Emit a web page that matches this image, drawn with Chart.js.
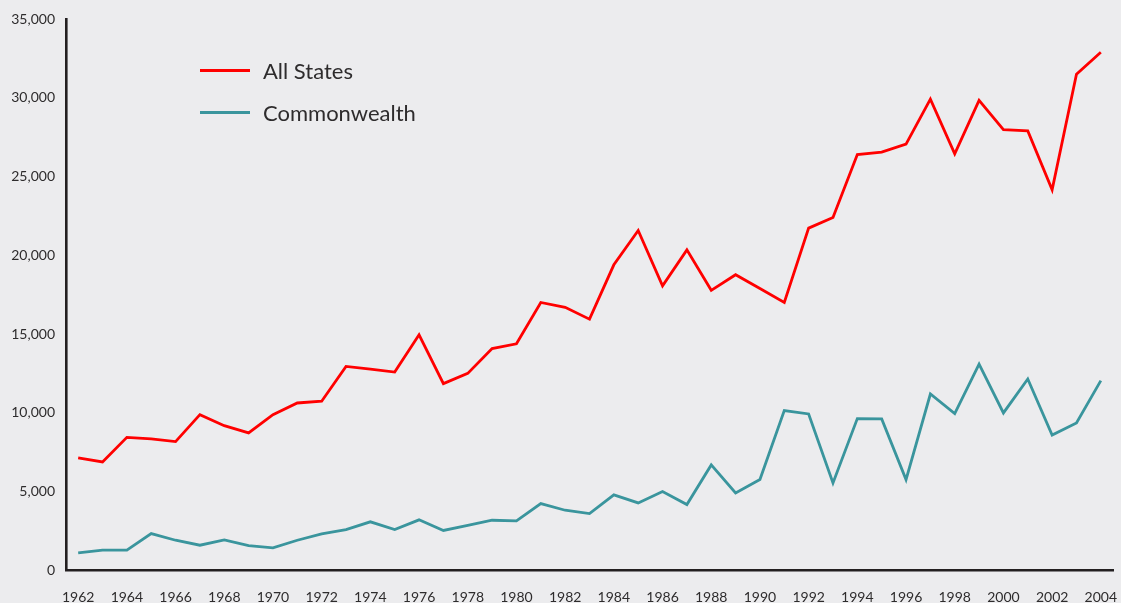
<!DOCTYPE html>
<html>
<head>
<meta charset="utf-8">
<script src="https://cdn.jsdelivr.net/npm/chart.js@4.4.1/dist/chart.umd.min.js"></script>
<style>
  html, body { margin: 0; padding: 0; background: #ececee; }
  #wrap { position: relative; width: 1121px; height: 603px; }
</style>
</head>
<body>
<div id="wrap"><canvas id="c" width="1121" height="603"></canvas></div>
<script>
const years = [1962,1963,1964,1965,1966,1967,1968,1969,1970,1971,1972,1973,1974,1975,1976,1977,1978,1979,1980,1981,1982,1983,1984,1985,1986,1987,1988,1989,1990,1991,1992,1993,1994,1995,1996,1997,1998,1999,2000,2001,2002,2003,2004];
const allStates = [7150,6890,8450,8350,8180,9890,9190,8730,9890,10630,10740,12950,12780,12590,14960,11860,12510,14080,14390,17010,16700,15950,19400,21580,18070,20350,17780,18770,17900,17010,21730,22400,26400,26550,27060,29910,26440,29830,27980,27900,24160,31500,32890];
const commonwealth = [1120,1290,1290,2345,1920,1605,1945,1585,1440,1920,2325,2600,3090,2600,3215,2540,2870,3190,3150,4250,3825,3615,4800,4290,5010,4185,6700,4925,5770,10146,9935,5560,9640,9620,5770,11200,9955,13100,10000,12155,8600,9365,12050];
const yTicks = [0,5000,10000,15000,20000,25000,30000,35000];
const seriesNames = ["All States","Commonwealth"];
const seriesColors = ["#ff0000","#3a959d"];

const FONT = "Lato, 'Open Sans', sans-serif";
const TEXT = "#2e2c2d";

const legendPlugin = {
  id: 'insideLegend',
  afterDatasetsDraw(chart) {
    const ctx = chart.ctx;
    ctx.save();
    chart.data.datasets.forEach((ds, i) => {
      const y = 70.5 + i * 42;
      ctx.strokeStyle = ds.borderColor;
      ctx.lineWidth = 2.8;
      ctx.beginPath();
      ctx.moveTo(200, y);
      ctx.lineTo(250, y);
      ctx.stroke();
      ctx.fillStyle = TEXT;
      ctx.font = "22px " + FONT;
      ctx.textBaseline = 'middle';
      ctx.textAlign = 'left';
      ctx.fillText(ds.label, 263, y + 1);
    });
    ctx.restore();
  }
};

new Chart(document.getElementById('c'), {
  type: 'line',
  data: {
    labels: years,
    datasets: [
      { label: seriesNames[0], data: allStates, borderColor: seriesColors[0], borderWidth: 2.8, pointRadius: 0, tension: 0, fill: false, borderJoinStyle: 'miter' },
      { label: seriesNames[1], data: commonwealth, borderColor: seriesColors[1], borderWidth: 2.8, pointRadius: 0, tension: 0, fill: false, borderJoinStyle: 'miter' }
    ]
  },
  options: {
    responsive: false,
    animation: false,
    devicePixelRatio: 1,
    layout: { padding: { top: 19, right: 8, left: 0, bottom: 0 } },
    plugins: { legend: { display: false }, tooltip: { enabled: false } },
    scales: {
      x: {
        type: 'category',
        offset: true,
        grid: { display: false, drawTicks: false },
        border: { display: true, color: '#231f20', width: 2.6 },
        ticks: {
          autoSkip: false,
          maxRotation: 0,
          padding: 19,
          color: TEXT,
          font: { family: FONT, size: 14 },
          callback: function(v, i) { const y = years[i]; return (y % 2 === 0) ? String(y) : ''; }
        },
        afterFit: s => { s.height = 32.5; s.paddingLeft = 0; s.paddingRight = 0; }
      },
      y: {
        min: 0,
        max: 35000,
        afterBuildTicks: s => { s.ticks = yTicks.map(v => ({ value: v })); },
        grid: { display: false, drawTicks: false },
        border: { display: true, color: '#231f20', width: 2.6 },
        ticks: {
          padding: 11,
          color: TEXT,
          font: { family: FONT, size: 14 },
          callback: v => v === 0 ? '0' : v.toLocaleString('en-US')
        },
        afterFit: s => { s.width = 66; s.paddingTop = 0; s.paddingBottom = 0; }
      }
    }
  },
  plugins: [legendPlugin]
});
</script>
</body>
</html>
